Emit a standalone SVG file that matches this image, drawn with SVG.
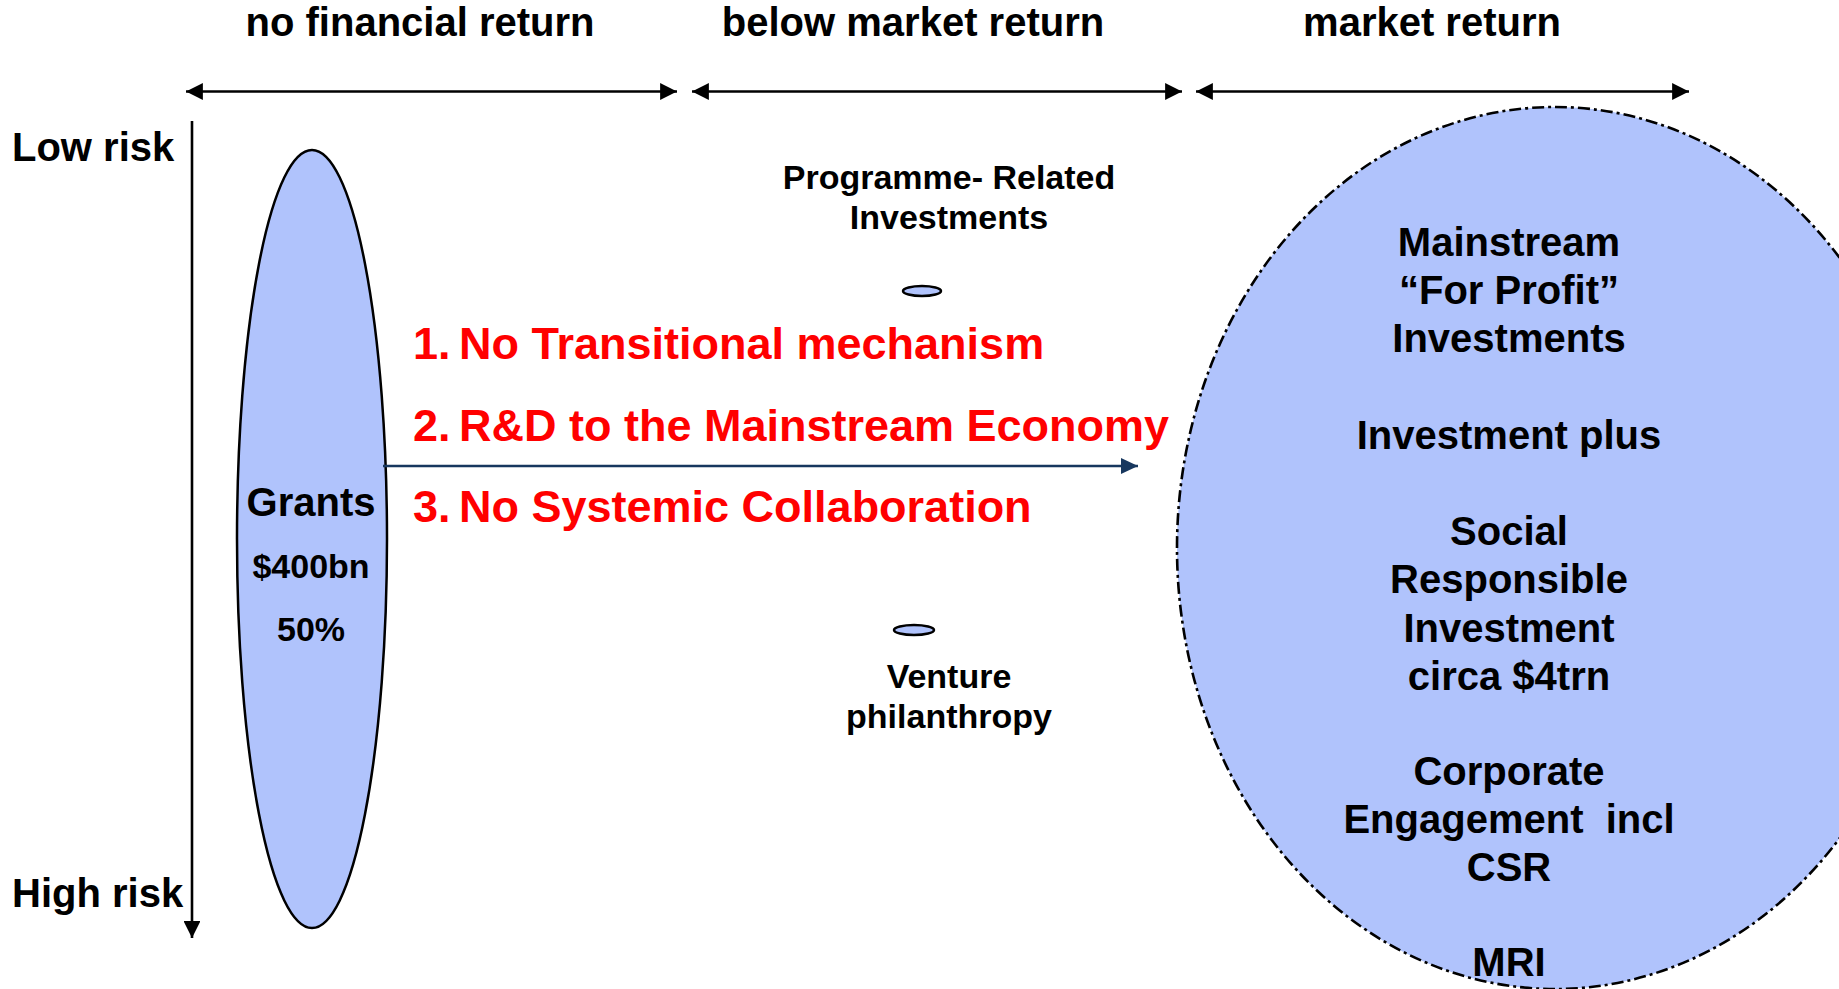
<svg xmlns="http://www.w3.org/2000/svg" width="1839" height="989" viewBox="0 0 1839 989">
<defs>
<style>
text{font-family:"Liberation Sans",Arial,sans-serif;font-weight:bold;fill:#000}
.hdr{font-size:40px;text-anchor:middle}
.risk{font-size:40px}
.ctr{text-anchor:middle}
.red{font-size:45px;fill:#FF0000}
.ell{fill:#B0C3FC;stroke:#000;stroke-width:2.5}
.axis{stroke:#000;stroke-width:2.6;fill:none}
</style>
<marker id="ah" viewBox="0 0 10 10" refX="10" refY="5" markerWidth="6.5" markerHeight="6.5" orient="auto-start-reverse" markerUnits="strokeWidth">
<path d="M0,0 L10,5 L0,10 z" fill="#000"/>
</marker>
<marker id="ahb" viewBox="0 0 10 10" refX="10" refY="5" markerWidth="7" markerHeight="6.5" orient="auto" markerUnits="strokeWidth" preserveAspectRatio="none">
<path d="M0,0 L10,5 L0,10 z" fill="#17375E"/>
</marker>
</defs>
<rect width="1839" height="989" fill="#fff"/>

<g id="headers">
<text class="hdr" x="420" y="36">no financial return</text>
<text class="hdr" x="913" y="36">below market return</text>
<text class="hdr" x="1432" y="36">market return</text>
</g>

<g id="axes">
<line class="axis" x1="186" y1="91.5" x2="677" y2="91.5" marker-start="url(#ah)" marker-end="url(#ah)"/>
<line class="axis" x1="692" y1="91.5" x2="1182" y2="91.5" marker-start="url(#ah)" marker-end="url(#ah)"/>
<line class="axis" x1="1196" y1="91.5" x2="1689" y2="91.5" marker-start="url(#ah)" marker-end="url(#ah)"/>
<line class="axis" x1="192" y1="121" x2="192" y2="938" marker-end="url(#ah)"/>
<text class="risk" x="12" y="161">Low risk</text>
<text class="risk" x="12" y="907">High risk</text>
</g>

<g id="market">
<ellipse cx="1555" cy="548" rx="378" ry="441" fill="#B0C3FC" stroke="#000" stroke-width="2.6" stroke-dasharray="12 4 3 4"/>
<text class="ctr" font-size="40" x="1509" y="256">Mainstream</text>
<text class="ctr" font-size="40" x="1509" y="304">“For Profit”</text>
<text class="ctr" font-size="40" x="1509" y="352">Investments</text>
<text class="ctr" font-size="40" x="1509" y="449">Investment plus</text>
<text class="ctr" font-size="40" x="1509" y="545">Social</text>
<text class="ctr" font-size="40" x="1509" y="593">Responsible</text>
<text class="ctr" font-size="40" x="1509" y="642">Investment</text>
<text class="ctr" font-size="40" x="1509" y="690">circa $4trn</text>
<text class="ctr" font-size="40" x="1509" y="785">Corporate</text>
<text class="ctr" font-size="40" x="1509" y="833" xml:space="preserve">Engagement  incl</text>
<text class="ctr" font-size="40" x="1509" y="881">CSR</text>
<text class="ctr" font-size="40" x="1509" y="976">MRI</text>
</g>

<g id="grants">
<ellipse class="ell" cx="312" cy="539" rx="75" ry="389"/>
<text class="ctr" font-size="40" x="311" y="516">Grants</text>
<text class="ctr" font-size="34" x="311" y="578">$400bn</text>
<text class="ctr" font-size="34" x="311" y="641">50%</text>
</g>

<g id="pri">
<ellipse class="ell" cx="922" cy="291" rx="19" ry="5" stroke-width="2"/>
<text class="ctr" font-size="34" x="949" y="189">Programme- Related</text>
<text class="ctr" font-size="34" x="949" y="229">Investments</text>
</g>

<g id="venture">
<ellipse class="ell" cx="914" cy="630" rx="20" ry="5" stroke-width="2"/>
<text class="ctr" font-size="34" x="949" y="688">Venture</text>
<text class="ctr" font-size="34" x="949" y="728">philanthropy</text>
</g>

<g id="connectors">
<line x1="383" y1="466" x2="1138" y2="466" stroke="#17375E" stroke-width="2.5" marker-end="url(#ahb)"/>
</g>

<g id="issues">
<text class="red" x="413" y="359">1.</text>
<text class="red" x="459" y="359">No Transitional mechanism</text>
<text class="red" x="413" y="441">2.</text>
<text class="red" x="459" y="441">R&amp;D to the Mainstream Economy</text>
<text class="red" x="413" y="522">3.</text>
<text class="red" x="459" y="522">No Systemic Collaboration</text>
</g>
</svg>
